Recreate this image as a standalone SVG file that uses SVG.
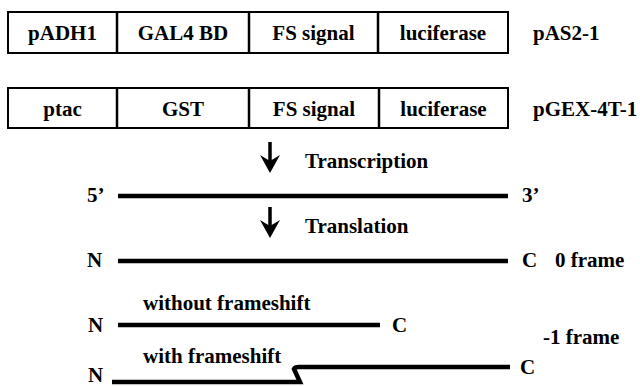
<svg xmlns="http://www.w3.org/2000/svg" width="640" height="386" viewBox="0 0 640 386" font-family="'Liberation Serif', 'Times New Roman', Times, 'DejaVu Serif', serif">
<style>
text{font-family:"Liberation Serif","Times New Roman",Times,"DejaVu Serif",serif;font-weight:bold;font-size:21px;fill:#000}
.c{text-anchor:middle}
.box{fill:#fff;stroke:#000;stroke-width:2}
.div{stroke:#000;stroke-width:2.5}
.thick{fill:none;stroke:#000;stroke-width:4.5}
.shaft{stroke:#000;stroke-width:3.5}
</style>
<defs>
<path id="ahead" d="M-10,-18 L0,0 L10,-18 L0,-12 Z" fill="#000"/>
</defs>
<rect width="640" height="386" fill="#fff"/>
<g id="construct-pAS2-1">
<rect class="box" x="8" y="12" width="500" height="41"/>
<line class="div" x1="117" y1="12" x2="117" y2="53"/>
<line class="div" x1="249" y1="12" x2="249" y2="53"/>
<line class="div" x1="378" y1="12" x2="378" y2="53"/>
<text class="c" x="62.5" y="40">pADH1</text>
<text class="c" x="183" y="40">GAL4 BD</text>
<text class="c" x="313.5" y="40">FS signal</text>
<text class="c" x="443" y="40">luciferase</text>
<text x="533" y="40">pAS2-1</text>
</g>
<g id="construct-pGEX-4T-1">
<rect class="box" x="8" y="88" width="500" height="40"/>
<line class="div" x1="117" y1="88" x2="117" y2="128"/>
<line class="div" x1="249" y1="88" x2="249" y2="128"/>
<line class="div" x1="379" y1="88" x2="379" y2="128"/>
<text class="c" x="62.5" y="116">ptac</text>
<text class="c" x="183" y="116">GST</text>
<text class="c" x="314" y="116">FS signal</text>
<text class="c" x="443.5" y="116">luciferase</text>
<text x="533" y="116">pGEX-4T-1</text>
</g>
<g id="connectors">
<line class="shaft" x1="270" y1="142" x2="270" y2="162"/>
<use href="#ahead" x="270" y="173"/>
<line class="shaft" x1="270" y1="207" x2="270" y2="227"/>
<use href="#ahead" x="270" y="238"/>
</g>
<g id="label-transcription"><text x="305" y="168">Transcription</text></g>
<g id="label-translation"><text x="305" y="233">Translation</text></g>
<g id="mrna">
<text x="87" y="202">5’</text>
<line class="thick" x1="118" y1="196" x2="508" y2="196"/>
<text x="522" y="202">3’</text>
</g>
<g id="protein-0-frame">
<text x="87" y="267">N</text>
<line class="thick" x1="118" y1="261" x2="508" y2="261"/>
<text x="522" y="267">C</text>
<text x="555" y="267">0 frame</text>
</g>
<g id="protein-without-frameshift">
<text x="143" y="310">without frameshift</text>
<text x="88" y="332">N</text>
<line class="thick" x1="118" y1="325" x2="380" y2="325"/>
<text x="392" y="332">C</text>
</g>
<g id="label-minus1-frame"><text x="543" y="344">-1 frame</text></g>
<g id="protein-with-frameshift">
<text x="143" y="363">with frameshift</text>
<text x="88" y="382">N</text>
<path class="thick" d="M112,382 H300 L294,369 Q295,367 299,367 H510"/>
<text x="520" y="374">C</text>
</g>
</svg>
